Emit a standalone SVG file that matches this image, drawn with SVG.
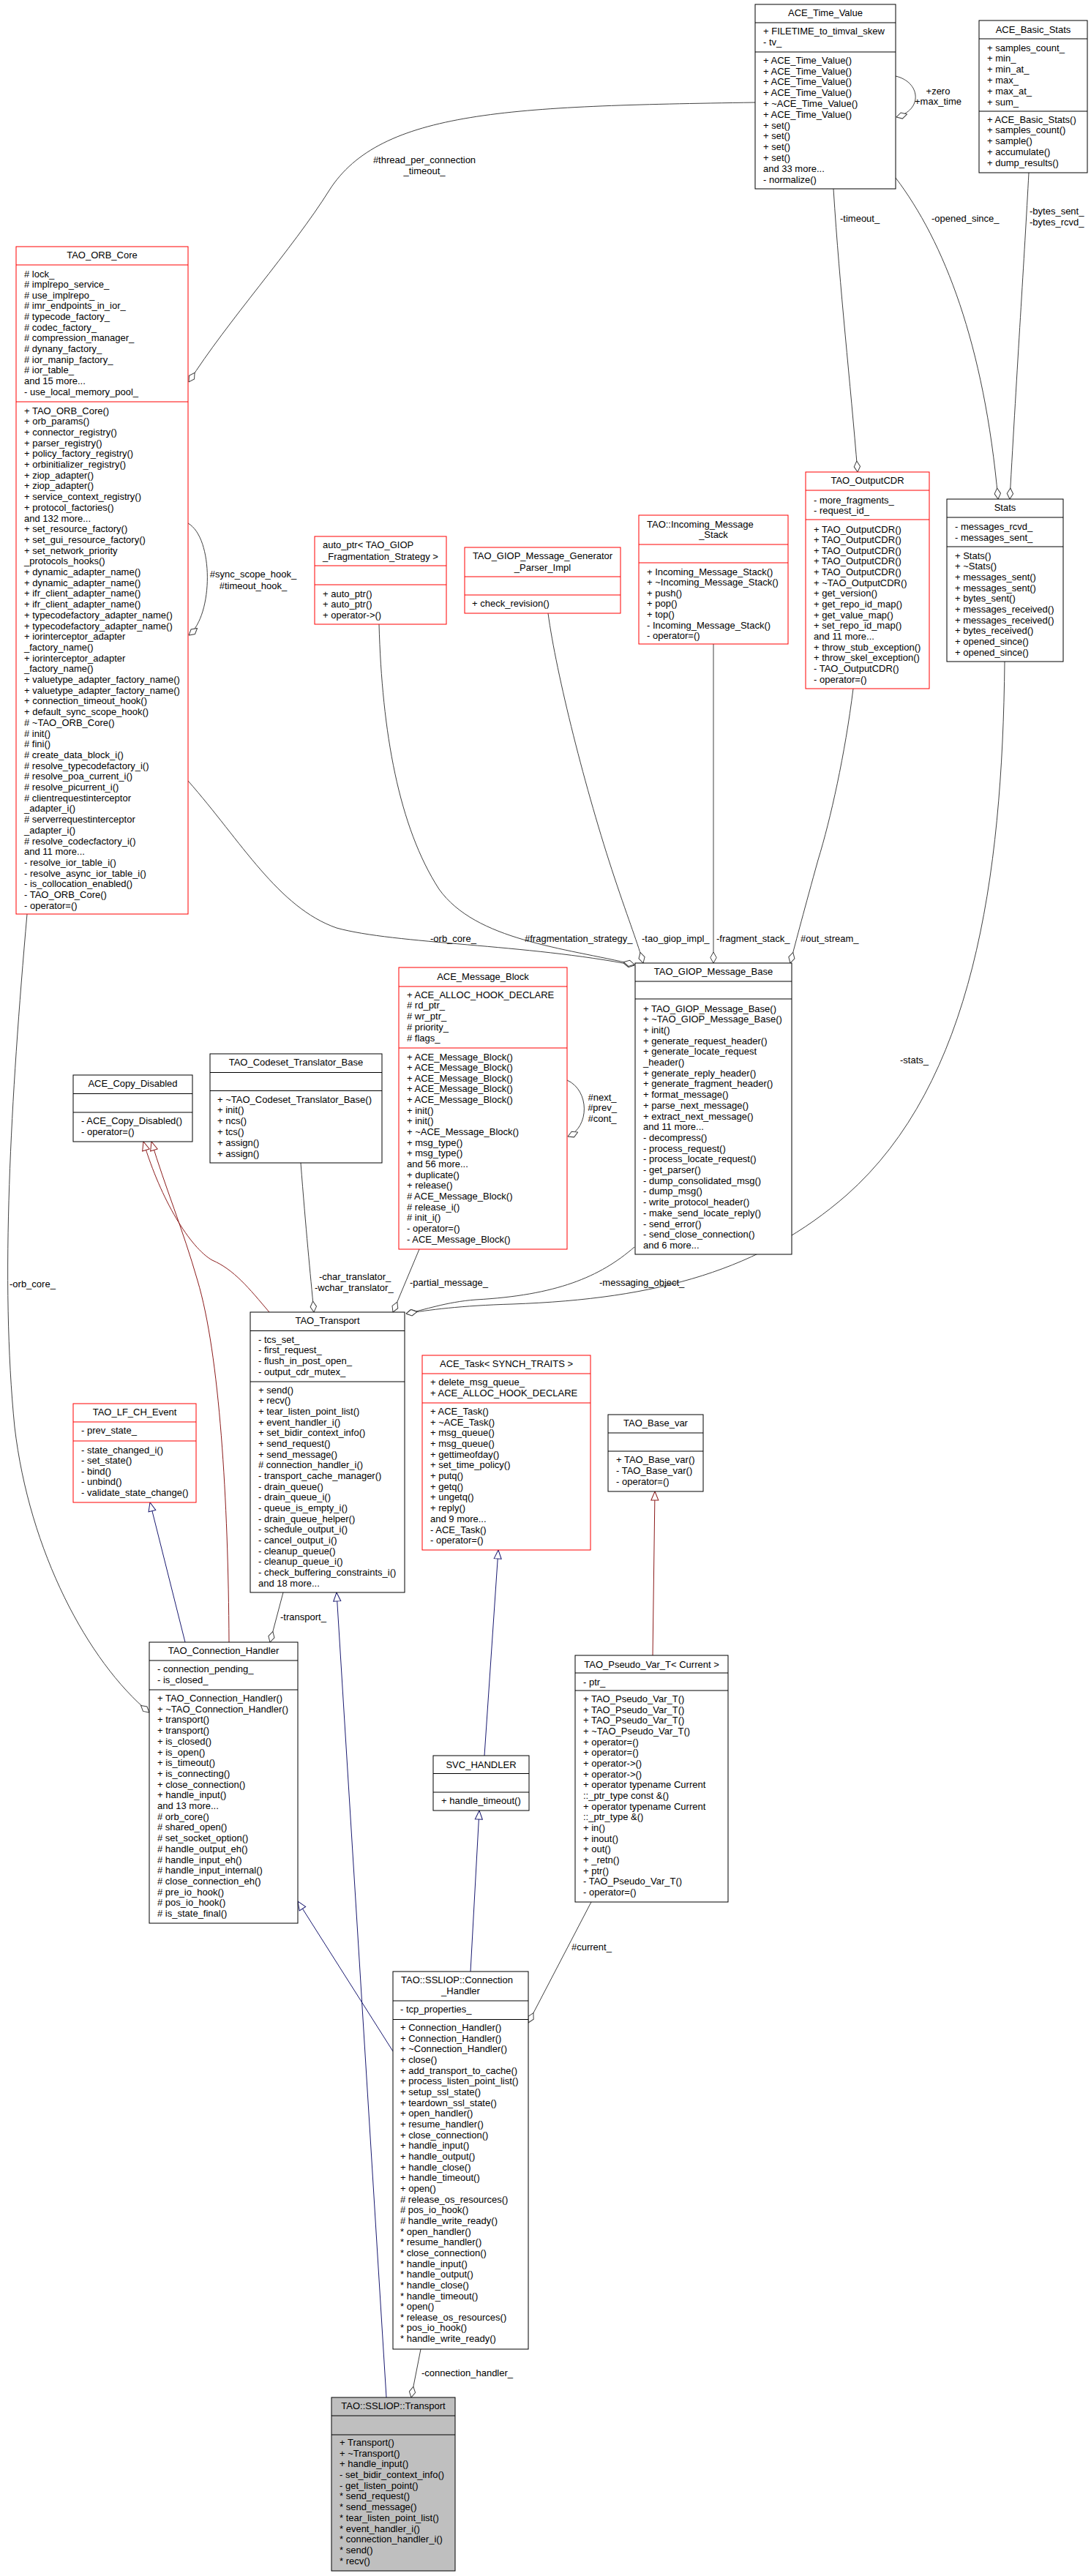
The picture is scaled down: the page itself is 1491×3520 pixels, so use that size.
<svg xmlns="http://www.w3.org/2000/svg" width="1491" height="3520" viewBox="0 0 1491 3520">
<style>
.bx{fill:#fff;stroke:#000;stroke-width:1}
.rb{fill:#fff;stroke:#f00;stroke-width:1}
.gb{fill:#bfbfbf;stroke:#000;stroke-width:1}
.sp{fill:none;stroke:#000;stroke-width:1}
.rs{fill:none;stroke:#f00;stroke-width:1}
text{font-family:"Liberation Sans",Arial,sans-serif;font-size:13px;fill:#000}
.c{text-anchor:middle}
.e{fill:none;stroke:#404040;stroke-width:1;marker-end:url(#dia)}
.ib{fill:none;stroke:#191970;stroke-width:1;marker-end:url(#tb)}
.ir{fill:none;stroke:#8b1a1a;stroke-width:1;marker-end:url(#tr)}
</style>
<defs>
<marker id="dia" viewBox="0 0 16 10" refX="15.5" refY="5" markerWidth="16" markerHeight="10" markerUnits="userSpaceOnUse" orient="auto"><path d="M0.5,5 L8,0.8 L15.5,5 L8,9.2 Z" fill="#fff" stroke="#404040"/></marker>
<marker id="tb" viewBox="0 0 14 12" refX="13" refY="6" markerWidth="14" markerHeight="12" markerUnits="userSpaceOnUse" orient="auto"><path d="M1,1 L13,6 L1,11 Z" fill="#fff" stroke="#191970"/></marker>
<marker id="tr" viewBox="0 0 14 12" refX="13" refY="6" markerWidth="14" markerHeight="12" markerUnits="userSpaceOnUse" orient="auto"><path d="M1,1 L13,6 L1,11 Z" fill="#fff" stroke="#8b1a1a"/></marker>
</defs>
<rect width="1491" height="3520" fill="#fff"/>

<g id="edges">
<path class="e" d="M1032,140 C700,145 520,150 450,260 C400,340 310,440 258,522"/>
<path class="e" d="M257,715 C292,735 292,840 258,868"/>
<path class="e" d="M1139,258 C1148,400 1162,520 1172,645"/>
<path class="e" d="M1224,243 C1290,330 1345,470 1364,682"/>
<path class="e" d="M1406,236 C1400,350 1390,500 1380,682"/>
<path class="e" d="M1224,104 C1258,112 1262,150 1225,160"/>
<path class="e" d="M257,1067 C330,1150 380,1240 460,1268 C540,1290 720,1290 867,1319"/>
<path class="e" d="M518,853 C522,1000 545,1130 600,1215 C650,1285 770,1295 867,1318"/>
<path class="e" d="M749,838 C760,920 800,1080 840,1200 C860,1260 872,1290 879,1316"/>
<path class="e" d="M975,880 L975,1316"/>
<path class="e" d="M1166,941 C1155,1030 1135,1120 1118,1175 C1100,1240 1088,1285 1080,1316"/>
<path class="e" d="M775,1476 C806,1490 806,1540 776,1553"/>
<path class="e" d="M411,1589 C418,1680 424,1740 429,1793"/>
<path class="e" d="M573,1707 L537,1793"/>
<path class="e" d="M867,1704 C820,1745 760,1770 650,1776 C610,1779 580,1790 555,1795"/>
<path class="e" d="M1373,904 C1370,1200 1330,1480 1157,1633 C1040,1735 900,1775 700,1782 C630,1784 585,1790 555,1795"/>
<path class="e" d="M387,2176 L369,2244"/>
<path class="e" d="M37,1249 C15,1500 0,1750 20,1950 C40,2120 120,2270 204,2340"/>
<path class="e" d="M808,2599 L722,2764"/>
<path class="e" d="M575,3210 L562,3276"/>
<path class="ir" d="M368,1793 C340,1760 320,1735 290,1722 C260,1705 220,1640 196,1560"/>
<path class="ir" d="M313,2244 C312,2050 300,1850 270,1750 C250,1680 225,1620 207,1560"/>
<path class="ib" d="M253,2244 L205,2053"/>
<path class="ib" d="M537,2803 L407,2598"/>
<path class="ib" d="M528,3276 L460,2176"/>
<path class="ib" d="M643,2694 L655,2474"/>
<path class="ib" d="M662,2399 L681,2118"/>
<path class="ir" d="M892,2262 L895,2038"/>
<text class="c" x="580" y="222.5"><tspan x="580">#thread_per_connection</tspan><tspan x="580" dy="15">_timeout_</tspan></text>
<text class="c" x="346" y="788.5"><tspan x="346">#sync_scope_hook_</tspan><tspan x="346" dy="16">#timeout_hook_</tspan></text>
<text class="c" x="1282" y="128.5"><tspan x="1282">+zero</tspan><tspan x="1282" dy="14">+max_time</tspan></text>
<text x="1148" y="303">-timeout_</text>
<text x="1273" y="303">-opened_since_</text>
<text x="1407" y="292.5"><tspan x="1407">-bytes_sent_</tspan><tspan x="1407" dy="15">-bytes_rcvd_</tspan></text>
<text x="1230" y="1452.5">-stats_</text>
<text x="588" y="1286.5">-orb_core_</text>
<text x="717" y="1286.5">#fragmentation_strategy_</text>
<text x="877" y="1286.5">-tao_giop_impl_</text>
<text x="979" y="1286.5">-fragment_stack_</text>
<text x="1094" y="1286.5">#out_stream_</text>
<text class="c" x="823" y="1503.5"><tspan x="823">#next_</tspan><tspan x="823" dy="14.5">#prev_</tspan><tspan x="823" dy="14.5">#cont_</tspan></text>
<text x="560" y="1756.5">-partial_message_</text>
<text x="819" y="1756.5">-messaging_object_</text>
<text x="436" y="1748.5">-char_translator_</text>
<text x="430" y="1763.5">-wchar_translator_</text>
<text x="383" y="2213.5">-transport_</text>
<text x="13" y="1758.5">-orb_core_</text>
<text x="781" y="2664.5">#current_</text>
<text x="576" y="3246.5">-connection_handler_</text>
</g>

<g id="ACE_Time_Value">
<rect class="bx" x="1032" y="6" width="192" height="252"/>
<path class="sp" d="M1032,31H1224M1032,71H1224"/>
<text class="c" x="1128" y="22">ACE_Time_Value</text>
<text x="1043" y="46.5"><tspan x="1043">+ FILETIME_to_timval_skew</tspan><tspan x="1043" dy="15">- tv_</tspan></text>
<text x="1043" y="86.8"><tspan x="1043">+ ACE_Time_Value()</tspan><tspan x="1043" dy="14.8">+ ACE_Time_Value()</tspan><tspan x="1043" dy="14.8">+ ACE_Time_Value()</tspan><tspan x="1043" dy="14.8">+ ACE_Time_Value()</tspan><tspan x="1043" dy="14.8">+ ~ACE_Time_Value()</tspan><tspan x="1043" dy="14.8">+ ACE_Time_Value()</tspan><tspan x="1043" dy="14.8">+ set()</tspan><tspan x="1043" dy="14.8">+ set()</tspan><tspan x="1043" dy="14.8">+ set()</tspan><tspan x="1043" dy="14.8">+ set()</tspan><tspan x="1043" dy="14.8">and 33 more...</tspan><tspan x="1043" dy="14.8">- normalize()</tspan></text>
</g>

<g id="ACE_Basic_Stats">
<rect class="bx" x="1338" y="28" width="148" height="208"/>
<path class="sp" d="M1338,53H1486M1338,152H1486"/>
<text class="c" x="1412" y="44.5">ACE_Basic_Stats</text>
<text x="1349" y="69.5"><tspan x="1349">+ samples_count_</tspan><tspan x="1349" dy="14.8">+ min_</tspan><tspan x="1349" dy="14.8">+ min_at_</tspan><tspan x="1349" dy="14.8">+ max_</tspan><tspan x="1349" dy="14.8">+ max_at_</tspan><tspan x="1349" dy="14.8">+ sum_</tspan></text>
<text x="1349" y="167.5"><tspan x="1349">+ ACE_Basic_Stats()</tspan><tspan x="1349" dy="14.8">+ samples_count()</tspan><tspan x="1349" dy="14.8">+ sample()</tspan><tspan x="1349" dy="14.8">+ accumulate()</tspan><tspan x="1349" dy="14.8">+ dump_results()</tspan></text>
</g>

<g id="TAO_ORB_Core">
<rect class="rb" x="22" y="337" width="235" height="912"/>
<path class="rs" d="M22,362H257M22,549H257"/>
<text class="c" x="139.5" y="352.5">TAO_ORB_Core</text>
<text x="33" y="378.5"><tspan x="33"># lock_</tspan><tspan x="33" dy="14.65"># implrepo_service_</tspan><tspan x="33" dy="14.65"># use_implrepo_</tspan><tspan x="33" dy="14.65"># imr_endpoints_in_ior_</tspan><tspan x="33" dy="14.65"># typecode_factory_</tspan><tspan x="33" dy="14.65"># codec_factory_</tspan><tspan x="33" dy="14.65"># compression_manager_</tspan><tspan x="33" dy="14.65"># dynany_factory_</tspan><tspan x="33" dy="14.65"># ior_manip_factory_</tspan><tspan x="33" dy="14.65"># ior_table_</tspan><tspan x="33" dy="14.65">and 15 more...</tspan><tspan x="33" dy="14.65">- use_local_memory_pool_</tspan></text>
<text x="33" y="565.5"><tspan x="33">+ TAO_ORB_Core()</tspan><tspan x="33" dy="14.7">+ orb_params()</tspan><tspan x="33" dy="14.7">+ connector_registry()</tspan><tspan x="33" dy="14.7">+ parser_registry()</tspan><tspan x="33" dy="14.7">+ policy_factory_registry()</tspan><tspan x="33" dy="14.7">+ orbinitializer_registry()</tspan><tspan x="33" dy="14.7">+ ziop_adapter()</tspan><tspan x="33" dy="14.7">+ ziop_adapter()</tspan><tspan x="33" dy="14.7">+ service_context_registry()</tspan><tspan x="33" dy="14.7">+ protocol_factories()</tspan><tspan x="33" dy="14.7">and 132 more...</tspan><tspan x="33" dy="14.7">+ set_resource_factory()</tspan><tspan x="33" dy="14.7">+ set_gui_resource_factory()</tspan><tspan x="33" dy="14.7">+ set_network_priority</tspan><tspan x="33" dy="14.7">_protocols_hooks()</tspan><tspan x="33" dy="14.7">+ dynamic_adapter_name()</tspan><tspan x="33" dy="14.7">+ dynamic_adapter_name()</tspan><tspan x="33" dy="14.7">+ ifr_client_adapter_name()</tspan><tspan x="33" dy="14.7">+ ifr_client_adapter_name()</tspan><tspan x="33" dy="14.7">+ typecodefactory_adapter_name()</tspan><tspan x="33" dy="14.7">+ typecodefactory_adapter_name()</tspan><tspan x="33" dy="14.7">+ iorinterceptor_adapter</tspan><tspan x="33" dy="14.7">_factory_name()</tspan><tspan x="33" dy="14.7">+ iorinterceptor_adapter</tspan><tspan x="33" dy="14.7">_factory_name()</tspan><tspan x="33" dy="14.7">+ valuetype_adapter_factory_name()</tspan><tspan x="33" dy="14.7">+ valuetype_adapter_factory_name()</tspan><tspan x="33" dy="14.7">+ connection_timeout_hook()</tspan><tspan x="33" dy="14.7">+ default_sync_scope_hook()</tspan><tspan x="33" dy="14.7"># ~TAO_ORB_Core()</tspan><tspan x="33" dy="14.7"># init()</tspan><tspan x="33" dy="14.7"># fini()</tspan><tspan x="33" dy="14.7"># create_data_block_i()</tspan><tspan x="33" dy="14.7"># resolve_typecodefactory_i()</tspan><tspan x="33" dy="14.7"># resolve_poa_current_i()</tspan><tspan x="33" dy="14.7"># resolve_picurrent_i()</tspan><tspan x="33" dy="14.7"># clientrequestinterceptor</tspan><tspan x="33" dy="14.7">_adapter_i()</tspan><tspan x="33" dy="14.7"># serverrequestinterceptor</tspan><tspan x="33" dy="14.7">_adapter_i()</tspan><tspan x="33" dy="14.7"># resolve_codecfactory_i()</tspan><tspan x="33" dy="14.7">and 11 more...</tspan><tspan x="33" dy="14.7">- resolve_ior_table_i()</tspan><tspan x="33" dy="14.7">- resolve_async_ior_table_i()</tspan><tspan x="33" dy="14.7">- is_collocation_enabled()</tspan><tspan x="33" dy="14.7">- TAO_ORB_Core()</tspan><tspan x="33" dy="14.7">- operator=()</tspan></text>
</g>

<g id="auto_ptr">
<rect class="rb" x="430" y="733" width="180" height="120"/>
<path class="rs" d="M430,773H610M430,799H610"/>
<text x="441" y="748.5"><tspan x="441">auto_ptr&lt; TAO_GIOP</tspan><tspan x="441" dy="16">_Fragmentation_Strategy &gt;</tspan></text>
<text x="441" y="815.5"><tspan x="441">+ auto_ptr()</tspan><tspan x="441" dy="14.5">+ auto_ptr()</tspan><tspan x="441" dy="14.5">+ operator-&gt;()</tspan></text>
</g>

<g id="TAO_GIOP_Message_Generator_Parser_Impl">
<rect class="rb" x="635" y="748" width="213" height="90"/>
<path class="rs" d="M635,788H848M635,813H848"/>
<text class="c" x="741.5" y="763.5"><tspan x="741.5">TAO_GIOP_Message_Generator</tspan><tspan x="741.5" dy="16">_Parser_Impl</tspan></text>
<text x="645" y="828.5">+ check_revision()</text>
</g>

<g id="TAO_Incoming_Message_Stack">
<rect class="rb" x="873" y="704" width="204" height="176"/>
<path class="rs" d="M873,744H1077M873,769H1077"/>
<text x="884" y="720.5">TAO::Incoming_Message</text>
<text class="c" x="975" y="734.5">_Stack</text>
<text x="884" y="785.5"><tspan x="884">+ Incoming_Message_Stack()</tspan><tspan x="884" dy="14.6">+ ~Incoming_Message_Stack()</tspan><tspan x="884" dy="14.6">+ push()</tspan><tspan x="884" dy="14.6">+ pop()</tspan><tspan x="884" dy="14.6">+ top()</tspan><tspan x="884" dy="14.6">- Incoming_Message_Stack()</tspan><tspan x="884" dy="14.6">- operator=()</tspan></text>
</g>

<g id="TAO_OutputCDR">
<rect class="rb" x="1101" y="645" width="169" height="296"/>
<path class="rs" d="M1101,670H1270M1101,710H1270"/>
<text class="c" x="1185.5" y="660.5">TAO_OutputCDR</text>
<text x="1112" y="687.5"><tspan x="1112">- more_fragments_</tspan><tspan x="1112" dy="14">- request_id_</tspan></text>
<text x="1112" y="727.5"><tspan x="1112">+ TAO_OutputCDR()</tspan><tspan x="1112" dy="14.65">+ TAO_OutputCDR()</tspan><tspan x="1112" dy="14.65">+ TAO_OutputCDR()</tspan><tspan x="1112" dy="14.65">+ TAO_OutputCDR()</tspan><tspan x="1112" dy="14.65">+ TAO_OutputCDR()</tspan><tspan x="1112" dy="14.65">+ ~TAO_OutputCDR()</tspan><tspan x="1112" dy="14.65">+ get_version()</tspan><tspan x="1112" dy="14.65">+ get_repo_id_map()</tspan><tspan x="1112" dy="14.65">+ get_value_map()</tspan><tspan x="1112" dy="14.65">+ set_repo_id_map()</tspan><tspan x="1112" dy="14.65">and 11 more...</tspan><tspan x="1112" dy="14.65">+ throw_stub_exception()</tspan><tspan x="1112" dy="14.65">+ throw_skel_exception()</tspan><tspan x="1112" dy="14.65">- TAO_OutputCDR()</tspan><tspan x="1112" dy="14.65">- operator=()</tspan></text>
</g>

<g id="Stats">
<rect class="bx" x="1294" y="682" width="159" height="222"/>
<path class="sp" d="M1294,707H1453M1294,747H1453"/>
<text class="c" x="1373.5" y="697.5">Stats</text>
<text x="1305" y="723.5"><tspan x="1305">- messages_rcvd_</tspan><tspan x="1305" dy="15">- messages_sent_</tspan></text>
<text x="1305" y="763.5"><tspan x="1305">+ Stats()</tspan><tspan x="1305" dy="14.7">+ ~Stats()</tspan><tspan x="1305" dy="14.7">+ messages_sent()</tspan><tspan x="1305" dy="14.7">+ messages_sent()</tspan><tspan x="1305" dy="14.7">+ bytes_sent()</tspan><tspan x="1305" dy="14.7">+ messages_received()</tspan><tspan x="1305" dy="14.7">+ messages_received()</tspan><tspan x="1305" dy="14.7">+ bytes_received()</tspan><tspan x="1305" dy="14.7">+ opened_since()</tspan><tspan x="1305" dy="14.7">+ opened_since()</tspan></text>
</g>

<g id="TAO_GIOP_Message_Base">
<rect class="bx" x="868" y="1316" width="214" height="398"/>
<path class="sp" d="M868,1341H1082M868,1365H1082"/>
<text class="c" x="975" y="1331.5">TAO_GIOP_Message_Base</text>
<text x="879" y="1382.5"><tspan x="879">+ TAO_GIOP_Message_Base()</tspan><tspan x="879" dy="14.7">+ ~TAO_GIOP_Message_Base()</tspan><tspan x="879" dy="14.7">+ init()</tspan><tspan x="879" dy="14.7">+ generate_request_header()</tspan><tspan x="879" dy="14.7">+ generate_locate_request</tspan><tspan x="879" dy="14.7">_header()</tspan><tspan x="879" dy="14.7">+ generate_reply_header()</tspan><tspan x="879" dy="14.7">+ generate_fragment_header()</tspan><tspan x="879" dy="14.7">+ format_message()</tspan><tspan x="879" dy="14.7">+ parse_next_message()</tspan><tspan x="879" dy="14.7">+ extract_next_message()</tspan><tspan x="879" dy="14.7">and 11 more...</tspan><tspan x="879" dy="14.7">- decompress()</tspan><tspan x="879" dy="14.7">- process_request()</tspan><tspan x="879" dy="14.7">- process_locate_request()</tspan><tspan x="879" dy="14.7">- get_parser()</tspan><tspan x="879" dy="14.7">- dump_consolidated_msg()</tspan><tspan x="879" dy="14.7">- dump_msg()</tspan><tspan x="879" dy="14.7">- write_protocol_header()</tspan><tspan x="879" dy="14.7">- make_send_locate_reply()</tspan><tspan x="879" dy="14.7">- send_error()</tspan><tspan x="879" dy="14.7">- send_close_connection()</tspan><tspan x="879" dy="14.7">and 6 more...</tspan></text>
</g>

<g id="ACE_Message_Block">
<rect class="rb" x="545" y="1322" width="230" height="385"/>
<path class="rs" d="M545,1348H775M545,1432H775"/>
<text class="c" x="660" y="1338.5">ACE_Message_Block</text>
<text x="556" y="1363.5"><tspan x="556">+ ACE_ALLOC_HOOK_DECLARE</tspan><tspan x="556" dy="14.8"># rd_ptr_</tspan><tspan x="556" dy="14.8"># wr_ptr_</tspan><tspan x="556" dy="14.8"># priority_</tspan><tspan x="556" dy="14.8"># flags_</tspan></text>
<text x="556" y="1448.5"><tspan x="556">+ ACE_Message_Block()</tspan><tspan x="556" dy="14.65">+ ACE_Message_Block()</tspan><tspan x="556" dy="14.65">+ ACE_Message_Block()</tspan><tspan x="556" dy="14.65">+ ACE_Message_Block()</tspan><tspan x="556" dy="14.65">+ ACE_Message_Block()</tspan><tspan x="556" dy="14.65">+ init()</tspan><tspan x="556" dy="14.65">+ init()</tspan><tspan x="556" dy="14.65">+ ~ACE_Message_Block()</tspan><tspan x="556" dy="14.65">+ msg_type()</tspan><tspan x="556" dy="14.65">+ msg_type()</tspan><tspan x="556" dy="14.65">and 56 more...</tspan><tspan x="556" dy="14.65">+ duplicate()</tspan><tspan x="556" dy="14.65">+ release()</tspan><tspan x="556" dy="14.65"># ACE_Message_Block()</tspan><tspan x="556" dy="14.65"># release_i()</tspan><tspan x="556" dy="14.65"># init_i()</tspan><tspan x="556" dy="14.65">- operator=()</tspan><tspan x="556" dy="14.65">- ACE_Message_Block()</tspan></text>
</g>

<g id="TAO_Codeset_Translator_Base">
<rect class="bx" x="287" y="1440" width="235" height="149"/>
<path class="sp" d="M287,1465.5H522M287,1490.5H522"/>
<text class="c" x="404.5" y="1455.5">TAO_Codeset_Translator_Base</text>
<text x="297" y="1506.5"><tspan x="297">+ ~TAO_Codeset_Translator_Base()</tspan><tspan x="297" dy="14.8">+ init()</tspan><tspan x="297" dy="14.8">+ ncs()</tspan><tspan x="297" dy="14.8">+ tcs()</tspan><tspan x="297" dy="14.8">+ assign()</tspan><tspan x="297" dy="14.8">+ assign()</tspan></text>
</g>

<g id="ACE_Copy_Disabled">
<rect class="bx" x="100" y="1469" width="163" height="91"/>
<path class="sp" d="M100,1494.5H263M100,1520H263"/>
<text class="c" x="181.5" y="1484.5">ACE_Copy_Disabled</text>
<text x="111" y="1535.5"><tspan x="111">- ACE_Copy_Disabled()</tspan><tspan x="111" dy="15">- operator=()</tspan></text>
</g>

<g id="TAO_Transport">
<rect class="bx" x="342" y="1793" width="211" height="383"/>
<path class="sp" d="M342,1818.5H553M342,1888H553"/>
<text class="c" x="447.5" y="1808.5">TAO_Transport</text>
<text x="353" y="1834.5"><tspan x="353">- tcs_set_</tspan><tspan x="353" dy="14.8">- first_request_</tspan><tspan x="353" dy="14.8">- flush_in_post_open_</tspan><tspan x="353" dy="14.8">- output_cdr_mutex_</tspan></text>
<text x="353" y="1903.5"><tspan x="353">+ send()</tspan><tspan x="353" dy="14.67">+ recv()</tspan><tspan x="353" dy="14.67">+ tear_listen_point_list()</tspan><tspan x="353" dy="14.67">+ event_handler_i()</tspan><tspan x="353" dy="14.67">+ set_bidir_context_info()</tspan><tspan x="353" dy="14.67">+ send_request()</tspan><tspan x="353" dy="14.67">+ send_message()</tspan><tspan x="353" dy="14.67"># connection_handler_i()</tspan><tspan x="353" dy="14.67">- transport_cache_manager()</tspan><tspan x="353" dy="14.67">- drain_queue()</tspan><tspan x="353" dy="14.67">- drain_queue_i()</tspan><tspan x="353" dy="14.67">- queue_is_empty_i()</tspan><tspan x="353" dy="14.67">- drain_queue_helper()</tspan><tspan x="353" dy="14.67">- schedule_output_i()</tspan><tspan x="353" dy="14.67">- cancel_output_i()</tspan><tspan x="353" dy="14.67">- cleanup_queue()</tspan><tspan x="353" dy="14.67">- cleanup_queue_i()</tspan><tspan x="353" dy="14.67">- check_buffering_constraints_i()</tspan><tspan x="353" dy="14.67">and 18 more...</tspan></text>
</g>

<g id="ACE_Task">
<rect class="rb" x="577" y="1852" width="230" height="266"/>
<path class="rs" d="M577,1877H807M577,1917H807"/>
<text class="c" x="692" y="1868">ACE_Task&lt; SYNCH_TRAITS &gt;</text>
<text x="588" y="1892.8"><tspan x="588">+ delete_msg_queue_</tspan><tspan x="588" dy="15">+ ACE_ALLOC_HOOK_DECLARE</tspan></text>
<text x="588" y="1932.8"><tspan x="588">+ ACE_Task()</tspan><tspan x="588" dy="14.7">+ ~ACE_Task()</tspan><tspan x="588" dy="14.7">+ msg_queue()</tspan><tspan x="588" dy="14.7">+ msg_queue()</tspan><tspan x="588" dy="14.7">+ gettimeofday()</tspan><tspan x="588" dy="14.7">+ set_time_policy()</tspan><tspan x="588" dy="14.7">+ putq()</tspan><tspan x="588" dy="14.7">+ getq()</tspan><tspan x="588" dy="14.7">+ ungetq()</tspan><tspan x="588" dy="14.7">+ reply()</tspan><tspan x="588" dy="14.7">and 9 more...</tspan><tspan x="588" dy="14.7">- ACE_Task()</tspan><tspan x="588" dy="14.7">- operator=()</tspan></text>
</g>

<g id="TAO_Base_var">
<rect class="bx" x="831" y="1933" width="130" height="105"/>
<path class="sp" d="M831,1958H961M831,1983H961"/>
<text class="c" x="896" y="1949">TAO_Base_var</text>
<text x="842" y="1998.8"><tspan x="842">+ TAO_Base_var()</tspan><tspan x="842" dy="15">- TAO_Base_var()</tspan><tspan x="842" dy="15">- operator=()</tspan></text>
</g>

<g id="TAO_LF_CH_Event">
<rect class="rb" x="100" y="1918" width="168" height="135"/>
<path class="rs" d="M100,1943H268M100,1969H268"/>
<text class="c" x="184" y="1933.5">TAO_LF_CH_Event</text>
<text x="111" y="1958.5">- prev_state_</text>
<text x="111" y="1985.5"><tspan x="111">- state_changed_i()</tspan><tspan x="111" dy="14.5">- set_state()</tspan><tspan x="111" dy="14.5">- bind()</tspan><tspan x="111" dy="14.5">- unbind()</tspan><tspan x="111" dy="14.5">- validate_state_change()</tspan></text>
</g>

<g id="TAO_Connection_Handler">
<rect class="bx" x="204" y="2244" width="203" height="384"/>
<path class="sp" d="M204,2269H407M204,2309H407"/>
<text class="c" x="305.5" y="2260">TAO_Connection_Handler</text>
<text x="215" y="2284.5"><tspan x="215">- connection_pending_</tspan><tspan x="215" dy="15">- is_closed_</tspan></text>
<text x="215" y="2325"><tspan x="215">+ TAO_Connection_Handler()</tspan><tspan x="215" dy="14.7">+ ~TAO_Connection_Handler()</tspan><tspan x="215" dy="14.7">+ transport()</tspan><tspan x="215" dy="14.7">+ transport()</tspan><tspan x="215" dy="14.7">+ is_closed()</tspan><tspan x="215" dy="14.7">+ is_open()</tspan><tspan x="215" dy="14.7">+ is_timeout()</tspan><tspan x="215" dy="14.7">+ is_connecting()</tspan><tspan x="215" dy="14.7">+ close_connection()</tspan><tspan x="215" dy="14.7">+ handle_input()</tspan><tspan x="215" dy="14.7">and 13 more...</tspan><tspan x="215" dy="14.7"># orb_core()</tspan><tspan x="215" dy="14.7"># shared_open()</tspan><tspan x="215" dy="14.7"># set_socket_option()</tspan><tspan x="215" dy="14.7"># handle_output_eh()</tspan><tspan x="215" dy="14.7"># handle_input_eh()</tspan><tspan x="215" dy="14.7"># handle_input_internal()</tspan><tspan x="215" dy="14.7"># close_connection_eh()</tspan><tspan x="215" dy="14.7"># pre_io_hook()</tspan><tspan x="215" dy="14.7"># pos_io_hook()</tspan><tspan x="215" dy="14.7"># is_state_final()</tspan></text>
</g>

<g id="TAO_Pseudo_Var_T">
<rect class="bx" x="786" y="2262" width="209" height="337"/>
<path class="sp" d="M786,2286H995M786,2310H995"/>
<text class="c" x="890.5" y="2278.5">TAO_Pseudo_Var_T&lt; Current &gt;</text>
<text x="797" y="2302.5">- ptr_</text>
<text x="797" y="2326"><tspan x="797">+ TAO_Pseudo_Var_T()</tspan><tspan x="797" dy="14.67">+ TAO_Pseudo_Var_T()</tspan><tspan x="797" dy="14.67">+ TAO_Pseudo_Var_T()</tspan><tspan x="797" dy="14.67">+ ~TAO_Pseudo_Var_T()</tspan><tspan x="797" dy="14.67">+ operator=()</tspan><tspan x="797" dy="14.67">+ operator=()</tspan><tspan x="797" dy="14.67">+ operator-&gt;()</tspan><tspan x="797" dy="14.67">+ operator-&gt;()</tspan><tspan x="797" dy="14.67">+ operator typename Current</tspan><tspan x="797" dy="14.67">::_ptr_type const &amp;()</tspan><tspan x="797" dy="14.67">+ operator typename Current</tspan><tspan x="797" dy="14.67">::_ptr_type &amp;()</tspan><tspan x="797" dy="14.67">+ in()</tspan><tspan x="797" dy="14.67">+ inout()</tspan><tspan x="797" dy="14.67">+ out()</tspan><tspan x="797" dy="14.67">+ _retn()</tspan><tspan x="797" dy="14.67">+ ptr()</tspan><tspan x="797" dy="14.67">- TAO_Pseudo_Var_T()</tspan><tspan x="797" dy="14.67">- operator=()</tspan></text>
</g>

<g id="SVC_HANDLER">
<rect class="bx" x="592" y="2399" width="131" height="75"/>
<path class="sp" d="M592,2423.5H723M592,2449H723"/>
<text class="c" x="657.5" y="2415.5">SVC_HANDLER</text>
<text x="603" y="2465">+ handle_timeout()</text>
</g>

<g id="TAO_SSLIOP_Connection_Handler">
<rect class="bx" x="537" y="2694" width="185" height="516"/>
<path class="sp" d="M537,2734H722M537,2759.5H722"/>
<text x="548" y="2710">TAO::SSLIOP::Connection</text>
<text class="c" x="629.5" y="2725">_Handler</text>
<text x="547" y="2750">- tcp_properties_</text>
<text x="547" y="2775"><tspan x="547">+ Connection_Handler()</tspan><tspan x="547" dy="14.66">+ Connection_Handler()</tspan><tspan x="547" dy="14.66">+ ~Connection_Handler()</tspan><tspan x="547" dy="14.66">+ close()</tspan><tspan x="547" dy="14.66">+ add_transport_to_cache()</tspan><tspan x="547" dy="14.66">+ process_listen_point_list()</tspan><tspan x="547" dy="14.66">+ setup_ssl_state()</tspan><tspan x="547" dy="14.66">+ teardown_ssl_state()</tspan><tspan x="547" dy="14.66">+ open_handler()</tspan><tspan x="547" dy="14.66">+ resume_handler()</tspan><tspan x="547" dy="14.66">+ close_connection()</tspan><tspan x="547" dy="14.66">+ handle_input()</tspan><tspan x="547" dy="14.66">+ handle_output()</tspan><tspan x="547" dy="14.66">+ handle_close()</tspan><tspan x="547" dy="14.66">+ handle_timeout()</tspan><tspan x="547" dy="14.66">+ open()</tspan><tspan x="547" dy="14.66"># release_os_resources()</tspan><tspan x="547" dy="14.66"># pos_io_hook()</tspan><tspan x="547" dy="14.66"># handle_write_ready()</tspan><tspan x="547" dy="14.66">* open_handler()</tspan><tspan x="547" dy="14.66">* resume_handler()</tspan><tspan x="547" dy="14.66">* close_connection()</tspan><tspan x="547" dy="14.66">* handle_input()</tspan><tspan x="547" dy="14.66">* handle_output()</tspan><tspan x="547" dy="14.66">* handle_close()</tspan><tspan x="547" dy="14.66">* handle_timeout()</tspan><tspan x="547" dy="14.66">* open()</tspan><tspan x="547" dy="14.66">* release_os_resources()</tspan><tspan x="547" dy="14.66">* pos_io_hook()</tspan><tspan x="547" dy="14.66">* handle_write_ready()</tspan></text>
</g>

<g id="TAO_SSLIOP_Transport">
<rect class="gb" x="453" y="3276" width="169" height="237"/>
<path class="sp" d="M453,3301H622M453,3327H622"/>
<text class="c" x="537.5" y="3292">TAO::SSLIOP::Transport</text>
<text x="464" y="3341.8"><tspan x="464">+ Transport()</tspan><tspan x="464" dy="14.72">+ ~Transport()</tspan><tspan x="464" dy="14.72">+ handle_input()</tspan><tspan x="464" dy="14.72">- set_bidir_context_info()</tspan><tspan x="464" dy="14.72">- get_listen_point()</tspan><tspan x="464" dy="14.72">* send_request()</tspan><tspan x="464" dy="14.72">* send_message()</tspan><tspan x="464" dy="14.72">* tear_listen_point_list()</tspan><tspan x="464" dy="14.72">* event_handler_i()</tspan><tspan x="464" dy="14.72">* connection_handler_i()</tspan><tspan x="464" dy="14.72">* send()</tspan><tspan x="464" dy="14.72">* recv()</tspan></text>
</g>
</svg>
